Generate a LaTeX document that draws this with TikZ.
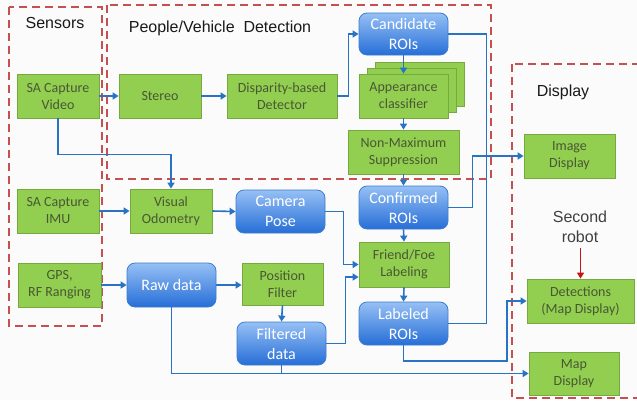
\documentclass[tikz,border=0pt]{standalone}
\usepackage{fontspec}
\setmainfont{Carlito}
\newfontfamily\labfont{Liberation Sans}
\usetikzlibrary{arrows.meta}
\definecolor{gfill}{RGB}{146,206,80}
\definecolor{gdraw}{RGB}{118,170,62}
\definecolor{gtext}{RGB}{72,88,52}
\definecolor{btop}{RGB}{150,192,245}
\definecolor{bbot}{RGB}{38,110,215}
\definecolor{bdraw}{RGB}{60,125,205}
\definecolor{lineblue}{RGB}{40,115,195}
\definecolor{dashred}{RGB}{196,80,80}
\definecolor{robotred}{RGB}{200,20,20}
\definecolor{bg}{RGB}{251,251,251}
\tikzset{
  gbox/.style={draw=gdraw, line width=0.8pt, fill=gfill, text=gtext, align=center,
    inner sep=0pt, font=\fontsize{14}{17}\selectfont},
  bbox/.style={draw=bdraw, line width=0.8pt, top color=btop, bottom color=bbot,
    rounded corners=8pt, text=white, align=center, inner sep=0pt,
    font=\fontsize{16}{20}\selectfont},
  arr/.style={draw=lineblue, line width=1.6pt, -{Triangle[length=6pt,width=7pt]}},
  plainln/.style={draw=lineblue, line width=1.6pt},
  region/.style={draw=dashred, line width=2.2pt, dash pattern=on 8pt off 5pt},
  title/.style={font=\labfont\fontsize{16}{19}\selectfont, text=black!90},
}
\begin{document}
\begin{tikzpicture}[x=1pt,y=-1pt]
\useasboundingbox (0,0) rectangle (637,400);
\clip (0,0) rectangle (637,400);
\fill[bg] (0,0) rectangle (637,400);

% regions
\draw[region] (9,7) rectangle (102,326);
\draw[region] (107,5) rectangle (491,179);
\draw[region] (512,64) rectangle (645,398);

% titles
\node[title] (tsens) at (55,23) {Sensors};
\node[title] (tpvd) at (220,28) {People/Vehicle\ \ Detection};
\node[title] (tdisp) at (563,92) {Display};
\node[title, align=center, text=black!75, font=\labfont\fontsize{16}{20}\selectfont] (trob) at (580,227) {Second\\robot};

% nodes
\node[gbox, minimum width=82pt, minimum height=44pt] (sv) at (58,96) {SA Capture\\Video};
\node[gbox, minimum width=82pt, minimum height=44pt] (st) at (160,96) {Stereo};
\node[gbox, minimum width=110pt, minimum height=44pt] (dd) at (282,96) {Disparity-based\\Detector};
\node[bbox, minimum width=89pt, minimum height=42pt] (cr) at (403.5,34) {Candidate\\ROIs};
\node[gbox, minimum width=89pt, minimum height=44pt] (ac3) at (419.5,84) {};
\node[gbox, minimum width=89pt, minimum height=44pt] (ac2) at (411.5,90) {};
\node[gbox, minimum width=89pt, minimum height=44pt] (ac) at (403.5,96) {Appearance\\classifier};
\node[gbox, minimum width=111pt, minimum height=44pt] (nms) at (403.5,152) {Non-Maximum\\Suppression};
\node[gbox, minimum width=91pt, minimum height=44pt] (im) at (569.5,156) {Image\\Display};
\node[gbox, minimum width=82pt, minimum height=44pt] (si) at (58,211) {SA Capture\\IMU};
\node[gbox, minimum width=82pt, minimum height=44pt] (vo) at (171,211) {Visual\\Odometry};
\node[bbox, minimum width=89pt, minimum height=43pt] (cp) at (280.5,211.5) {Camera\\Pose};
\node[bbox, minimum width=89pt, minimum height=43pt] (co) at (403.5,207.5) {Confirmed\\ROIs};
\node[gbox, minimum width=90pt, minimum height=45pt] (ff) at (404,264.5) {Friend/Foe\\Labeling};
\node[gbox, minimum width=83pt, minimum height=44pt] (gps) at (59.5,285) {GPS,\\RF Ranging};
\node[bbox, minimum width=89pt, minimum height=44pt] (rd) at (171.5,285) {Raw data};
\node[gbox, minimum width=81pt, minimum height=42pt] (pf) at (282.5,284) {Position\\Filter};
\node[bbox, minimum width=89pt, minimum height=43pt] (fd) at (281.5,343.5) {Filtered\\data};
\node[bbox, minimum width=89pt, minimum height=43pt] (lr) at (403.5,323.5) {Labeled\\ROIs};
\node[gbox, minimum width=107pt, minimum height=44pt] (det) at (580.5,301) {Detections\\(Map Display)};
\node[gbox, minimum width=90pt, minimum height=43pt] (md) at (574,373.5) {Map\\Display};

% connectors
\draw[arr] (sv.east) -- (st.west);
\draw[arr] (st.west -| st.east) -- (dd.west);
\draw[arr] (dd.east) -- ++(11,0) |- (cr.west);
\draw[arr] (cr.south) -- (ac.north);
\draw[arr] (ac.south) -- (nms.north);
\draw[arr] (nms.south) -- (co.north);
\draw[arr] (sv.south) -- ++(0,36) -| (vo.north);
\draw[arr] (si.east) -- (vo.west);
\draw[arr] (vo.east) -- (cp.west);
\draw[arr] (cp.east) -- ++(18,0) |- (ff.west);
\draw[arr] (fd.east) -- ++(19,0) |- ([yshift=-12.5pt]ff.west);
\draw[arr] (co.south) -- (ff.north);
\draw[arr] (ff.south) -- (lr.north);
\draw[arr] (co.east) -- ++(24,0) |- (im.west);
\draw[plainln] (cr.east) -- ++(38,0) |- (lr.east);
\draw[arr] (lr.south) |- (507,361) |- (det.west);
\draw[arr] (gps.east) -- (rd.west);
\draw[arr] (rd.east) -- (rd.east -| pf.west);
\draw[arr] (pf.south) -- (fd.north);
\draw[arr] (rd.south) |- (md.west);
\draw[plainln] (fd.south) -- (fd.south |- md.west);
\draw[draw=robotred, line width=1.6pt, -{Triangle[length=6pt,width=7pt]}] ([yshift=-2pt]trob.south -| det.north) -- (det.north);
\end{tikzpicture}
\end{document}
